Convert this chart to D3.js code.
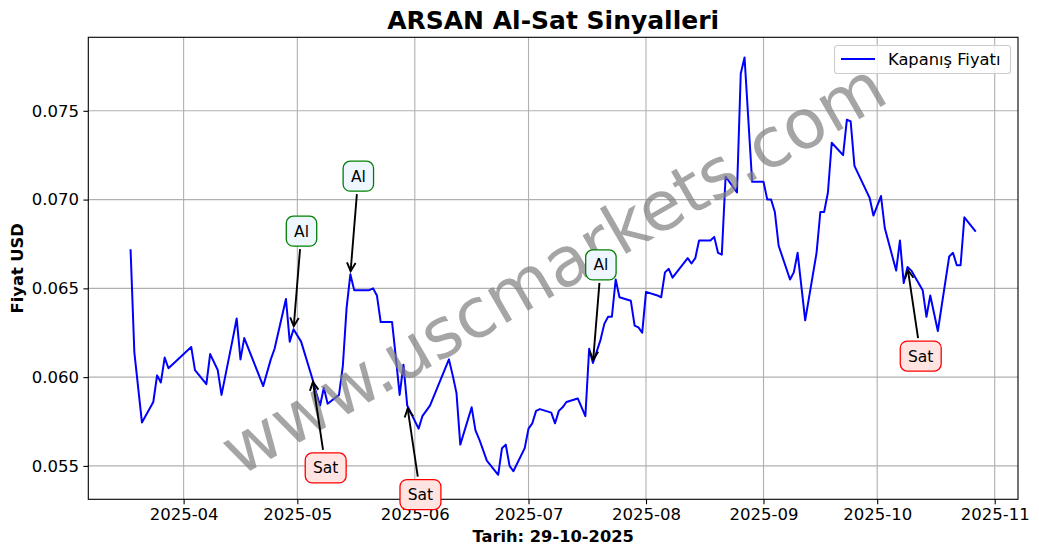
<!DOCTYPE html>
<html><head><meta charset="utf-8">
<script src="https://cdn.jsdelivr.net/npm/d3@7"></script>
<style>body{margin:0;background:#fff} svg{display:block} text{font-family:"DejaVu Sans",sans-serif}</style>
</head><body><svg id="c" width="1039" height="554"></svg>
<script>
const dates = ["2025-03-18","2025-03-19","2025-03-21","2025-03-24","2025-03-25","2025-03-26","2025-03-27","2025-03-28",
"2025-04-03","2025-04-04","2025-04-07","2025-04-08","2025-04-10","2025-04-11","2025-04-14","2025-04-15","2025-04-16","2025-04-17",
"2025-04-22","2025-04-24","2025-04-25","2025-04-28","2025-04-29","2025-04-30",
"2025-05-02","2025-05-05","2025-05-06","2025-05-07","2025-05-08","2025-05-09","2025-05-12","2025-05-13","2025-05-14","2025-05-15","2025-05-16",
"2025-05-19","2025-05-20","2025-05-21","2025-05-22","2025-05-23","2025-05-26","2025-05-27","2025-05-28","2025-05-29","2025-05-30",
"2025-06-02","2025-06-03","2025-06-04","2025-06-05","2025-06-10","2025-06-11","2025-06-12","2025-06-13","2025-06-16","2025-06-17",
"2025-06-18","2025-06-19","2025-06-20","2025-06-23","2025-06-24","2025-06-25","2025-06-26","2025-06-27","2025-06-30",
"2025-07-01","2025-07-02","2025-07-03","2025-07-04","2025-07-07","2025-07-08","2025-07-09","2025-07-10","2025-07-11","2025-07-14",
"2025-07-16","2025-07-17","2025-07-18","2025-07-20","2025-07-21","2025-07-22","2025-07-23","2025-07-24","2025-07-25",
"2025-07-28","2025-07-29","2025-07-30","2025-07-31","2025-08-01","2025-08-04","2025-08-05","2025-08-06","2025-08-07","2025-08-08",
"2025-08-12","2025-08-13","2025-08-14","2025-08-15","2025-08-18","2025-08-19","2025-08-20","2025-08-21","2025-08-22",
"2025-08-25","2025-08-26","2025-08-27","2025-08-29","2025-09-01","2025-09-02","2025-09-03","2025-09-04","2025-09-05",
"2025-09-08","2025-09-09","2025-09-10","2025-09-12","2025-09-15","2025-09-16","2025-09-17","2025-09-18","2025-09-19",
"2025-09-22","2025-09-23","2025-09-24","2025-09-25","2025-09-29","2025-09-30","2025-10-02","2025-10-03",
"2025-10-06","2025-10-07","2025-10-08","2025-10-09","2025-10-10","2025-10-13","2025-10-14","2025-10-15","2025-10-17",
"2025-10-20","2025-10-21","2025-10-22","2025-10-23","2025-10-24","2025-10-27"];
const closes = [0.0672,0.0614,0.05745,0.0586,0.0601,0.0597,0.0611,0.0605,
0.0617,0.0604,0.0596,0.0613,0.0604,0.0590,0.0622,0.0633,0.0610,0.0622,
0.0595,0.0610,0.0616,0.0644,0.0620,0.0627,
0.0620,0.0599,0.0591,0.0584,0.0594,0.0585,0.0590,0.0606,0.0639,0.0658,0.0649,
0.0649,0.0649,0.0650,0.0646,0.0631,0.0631,0.0611,0.0590,0.0607,0.0584,
0.0571,0.0578,0.0581,0.0584,0.0610,0.0601,0.0591,0.0562,0.0583,0.0570,
0.0565,0.0559,0.0553,0.0545,0.0560,0.0562,0.0550,0.0547,0.0560,
0.0571,0.0574,0.0581,0.0582,0.0580,0.0574,0.0581,0.0583,0.0586,0.0588,
0.0578,0.0616,0.0608,0.0621,0.0630,0.0634,0.0634,0.0655,0.0645,
0.0643,0.0629,0.0628,0.0625,0.0648,0.0646,0.0645,0.0659,0.0661,0.0656,
0.0667,0.0664,0.0667,0.0677,0.0677,0.0679,0.0670,0.0669,0.0713,
0.0704,0.0771,0.0780,0.0710,0.0710,0.0700,0.0700,0.0693,0.0674,
0.0655,0.0659,0.0670,0.0632,0.0670,0.0693,0.0693,0.0704,0.0732,
0.0725,0.0745,0.0744,0.0719,0.0701,0.0691,0.0702,0.0684,
0.0660,0.0677,0.0653,0.0662,0.0660,0.0649,0.0634,0.0646,0.0626,
0.0668,0.0670,0.0663,0.0663,0.0690,0.0682];
const alDates = ["2025-04-30","2025-05-15","2025-07-18"];
const satDates = ["2025-05-05","2025-05-30","2025-10-09"];
const yTicks = [0.055,0.060,0.065,0.070,0.075];
const xTickDates = ["2025-04-01","2025-05-01","2025-06-01","2025-07-01","2025-08-01","2025-09-01","2025-10-01","2025-11-01"];
const titleText = "ARSAN Al-Sat Sinyalleri";
const xLabel = "Tarih: 29-10-2025";
const yLabel = "Fiyat USD";
const legendLabel = "Kapanış Fiyatı";
const watermark = "www.uscmarkets.com";

const parse = d3.utcParse("%Y-%m-%d");
const data = dates.map((d,i)=>({date:parse(d), v:closes[i]}));
const L=88.3, T=37.3, R=1018, B=499.3;
const svg = d3.select("#c");
const t0 = data[0].date, t1 = data[data.length-1].date;
const m = (t1-t0)*0.05;
const x = d3.scaleUtc().domain([new Date(+t0-m), new Date(+t1+m)]).range([L,R]);
const y = d3.scaleLinear().domain([0.05312,0.07914]).range([B,T]);

// grid
const g = svg.append("g");
g.selectAll(".gx").data(xTickDates.map(parse)).join("line")
  .attr("x1",d=>x(d)).attr("x2",d=>x(d)).attr("y1",T).attr("y2",B)
  .attr("stroke","#b0b0b0").attr("stroke-width",1.1);
g.selectAll(".gy").data(yTicks).join("line")
  .attr("x1",L).attr("x2",R).attr("y1",d=>y(d)).attr("y2",d=>y(d))
  .attr("stroke","#b0b0b0").attr("stroke-width",1.1);

svg.append("defs").append("clipPath").attr("id","clip").append("rect")
  .attr("x",L).attr("y",T).attr("width",R-L).attr("height",B-T);

// line
const line = d3.line().x(d=>x(d.date)).y(d=>y(d.v));
svg.append("path").datum(data).attr("d",line).attr("fill","none")
  .attr("stroke","#0000ff").attr("stroke-width",2).attr("stroke-linejoin","round")
  .attr("clip-path","url(#clip)");

// axes
const xAxis = d3.axisBottom(x).tickValues(xTickDates.map(parse)).tickFormat(d3.utcFormat("%Y-%m")).tickSizeOuter(0).tickSize(4.9).tickPadding(4.5);
const ax = svg.append("g").attr("transform",`translate(0,${B})`).call(xAxis);
const yAxis = d3.axisLeft(y).tickValues(yTicks).tickFormat(d3.format(".3f")).tickSizeOuter(0).tickSize(4.9).tickPadding(4.5);
const ay = svg.append("g").attr("transform",`translate(${L},0)`).call(yAxis);
[ax,ay].forEach(a=>{
  a.select(".domain").remove();
  a.selectAll(".tick line").attr("stroke","#000").attr("stroke-width",1.1);
  a.selectAll(".tick text").attr("font-family","DejaVu Sans").attr("font-size",16.5).attr("fill","#000");
});

// frame
svg.append("rect").attr("x",L).attr("y",T).attr("width",R-L).attr("height",B-T)
  .attr("fill","none").attr("stroke","#000").attr("stroke-width",1.1);

// watermark
svg.append("text").attr("transform",`translate(${(L+R)/2},${(T+B)/2}) rotate(-30)`)
  .attr("text-anchor","middle").attr("dominant-baseline","central")
  .attr("font-size",69).attr("fill","#808080").attr("opacity",0.7).text(watermark);

// annotations
const lookup = new Map(data.map(d=>[+d.date,d.v]));
function annotate(ds, label, dy, edge, fill){
  ds.forEach(ds1=>{
    const dt = parse(ds1), v = lookup.get(+dt);
    const px = x(dt), py = y(v);
    const gg = svg.append("g");
    const txt = gg.append("text").attr("font-size",15.5).attr("text-anchor","middle")
      .attr("dominant-baseline","central").attr("fill","#000").text(label);
    const tw = txt.node().getComputedTextLength();
    const cx = px + tw/2 + 0.5, cy = py + dy;
    const bw = tw + 15.5, bh = 30;
    txt.attr("x",cx).attr("y",cy+0.5);
    gg.insert("rect","text").attr("x",cx-bw/2).attr("y",cy-bh/2).attr("width",bw).attr("height",bh)
      .attr("rx",7).attr("fill",fill).attr("stroke",edge).attr("stroke-width",1.3);
    const ddx = px-cx, ddy = py-cy, len = Math.hypot(ddx,ddy), ux=ddx/len, uy=ddy/len;
    const tt = Math.min((bw/2)/Math.abs(ddx||1e-9),(bh/2)/Math.abs(ddy||1e-9));
    const sx = cx + ddx*tt + ux*3, sy = cy + ddy*tt + uy*3;
    const ex = px - ux*3, ey = py - uy*3;
    const a = svg.append("g").attr("stroke","#000").attr("stroke-width",1.9).attr("fill","none");
    a.append("line").attr("x1",sx).attr("y1",sy).attr("x2",ex).attr("y2",ey);
    const hl=8.5, hw=4.3;
    const bx = ex-ux*hl, by = ey-uy*hl;
    a.append("path").attr("d",`M${bx-uy*hw},${by+ux*hw}L${ex},${ey}L${bx+uy*hw},${by-ux*hw}`);
  });
}
annotate(alDates,"Al",-98,"#008000","#eef6ff");
annotate(satDates,"Sat",89,"#ff0000","#ffe4e1");

// labels
svg.append("text").attr("x",(L+R)/2).attr("y",28.5).attr("text-anchor","middle")
  .attr("font-size",25).attr("font-weight","bold").text(titleText);
svg.append("text").attr("x",(L+R)/2).attr("y",541.7).attr("text-anchor","middle")
  .attr("font-size",16.3).attr("font-weight","bold").text(xLabel);
svg.append("text").attr("transform",`translate(22.5,${(T+B)/2}) rotate(-90)`).attr("text-anchor","middle")
  .attr("font-size",16.3).attr("font-weight","bold").text(yLabel);

// legend
const lg = svg.append("g");
lg.append("rect").attr("x",834.5).attr("y",45.5).attr("width",176).attr("height",28).attr("rx",3)
  .attr("fill","#fff").attr("fill-opacity",0.8).attr("stroke","#cccccc").attr("stroke-width",1.1);
lg.append("line").attr("x1",841).attr("x2",875).attr("y1",59).attr("y2",59).attr("stroke","#0000ff").attr("stroke-width",2);
lg.append("text").attr("x",888).attr("y",59).attr("dominant-baseline","central").attr("font-size",16.3).text(legendLabel);
</script></body></html>
